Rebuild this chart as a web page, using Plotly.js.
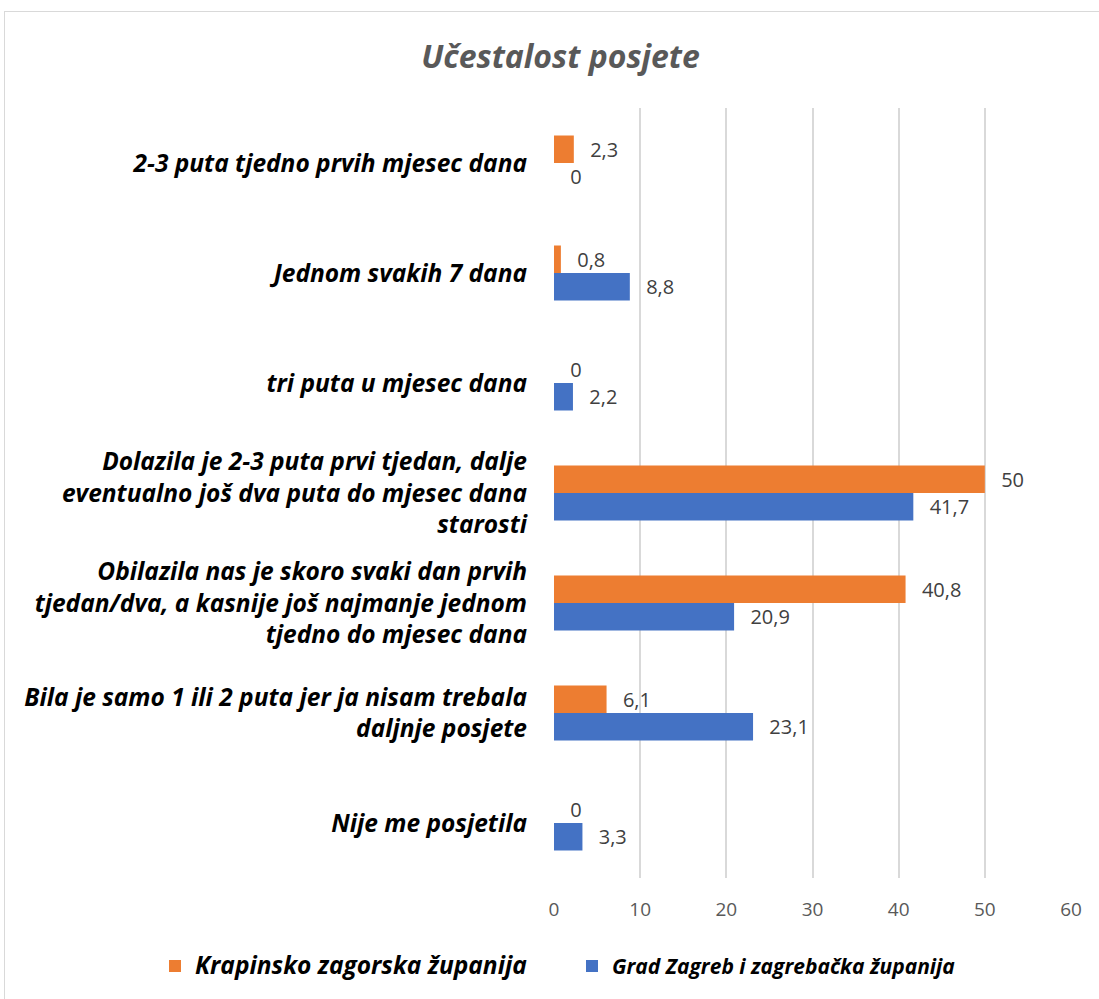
<!DOCTYPE html>
<html>
<head>
<meta charset="utf-8">
<script src="https://cdn.plot.ly/plotly-3.0.1.min.js"></script>
<style>
html,body{margin:0;padding:0;background:#fff;}
#chart{position:absolute;left:0;top:0;width:1099px;height:999px;}
#frame{position:absolute;left:4px;top:11px;width:1110px;height:1010px;border:1px solid #d9d9d9;pointer-events:none;}
</style>
</head>
<body>
<div id="chart"></div>
<div id="frame"></div>
<script>
const categories = [
  "2-3 puta tjedno prvih mjesec dana",
  "Jednom svakih 7 dana",
  "tri puta u mjesec dana",
  "Dolazila je 2-3 puta prvi tjedan, dalje<br>eventualno još dva puta do mjesec dana<br>starosti",
  "Obilazila nas je skoro svaki dan prvih<br>tjedan/dva, a kasnije još najmanje jednom<br>tjedno do mjesec dana",
  "Bila je samo 1 ili 2 puta jer ja nisam trebala<br>daljnje posjete",
  "Nije me posjetila"
];
const seriesNames = ["Krapinsko zagorska županija", "Grad Zagreb i zagrebačka županija"];
const krapinsko = [2.3, 0.8, 0, 50, 40.8, 6.1, 0];
const zagreb = [0, 8.8, 2.2, 41.7, 20.9, 23.1, 3.3];
const xTicks = [0, 10, 20, 30, 40, 50, 60];

const FONT = "'Open Sans', Lato, sans-serif";
const fmt = v => '\u2002\u2009' + String(v).replace('.', ',');

function barTrace(vals, name, color, legendSize) {
  return {
    type: 'bar', orientation: 'h',
    y: categories, x: vals,
    name: '<span style="font-size:' + legendSize + 'px">' + name + '</span>',
    marker: {color: color},
    text: vals.map(fmt),
    textposition: 'outside',
    cliponaxis: false,
    textfont: {family: FONT, size: 20, color: '#404040'},
    hoverinfo: 'x+y'
  };
}

const data = [
  barTrace(krapinsko, seriesNames[0], '#ED7D31', 24.5),
  barTrace(zagreb, seriesNames[1], '#4472C4', 21)
];

const layout = {
  width: 1099, height: 999,
  margin: {l: 554, r: 28, t: 108, b: 121},
  paper_bgcolor: '#ffffff', plot_bgcolor: '#ffffff',
  font: {family: FONT, color: '#000000'},
  title: {
    text: '<b><i>Učestalost posjete</i></b>',
    font: {family: FONT, size: 32, color: '#595959'},
    x: 0.51, xref: 'container', xanchor: 'center',
    y: 0.943, yref: 'container', yanchor: 'middle'
  },
  barmode: 'group',
  bargap: 0.5, bargroupgap: 0,
  xaxis: {
    range: [0, 60], tickvals: xTicks, ticktext: xTicks.map(String),
    showgrid: true, gridcolor: '#d9d9d9', gridwidth: 2,
    zeroline: false, showline: false, ticks: '',
    tickfont: {family: FONT, size: 19, color: '#595959'},
    ticklabelstandoff: 18, fixedrange: true
  },
  yaxis: {
    type: 'category', autorange: 'reversed',
    showgrid: false, zeroline: false, showline: false, ticks: '',
    tickfont: {family: FONT, size: 24.5, color: '#000000', weight: 'bold', style: 'italic'},
    ticklabelstandoff: 26, fixedrange: true
  },
  showlegend: true,
  legend: {
    orientation: 'h', xref: 'paper', x: (155 - 554) / 517, xanchor: 'left',
    yref: 'paper', y: (878 - 966) / 770, yanchor: 'middle',
    entrywidth: 372, entrywidthmode: 'pixels',
    font: {family: FONT, size: 20, color: '#000000', weight: 'bold', style: 'italic'},
    itemclick: false, itemdoubleclick: false, traceorder: 'normal'
  }
};

Plotly.newPlot('chart', data, layout, {displayModeBar: false, responsive: false});
</script>
</body>
</html>
